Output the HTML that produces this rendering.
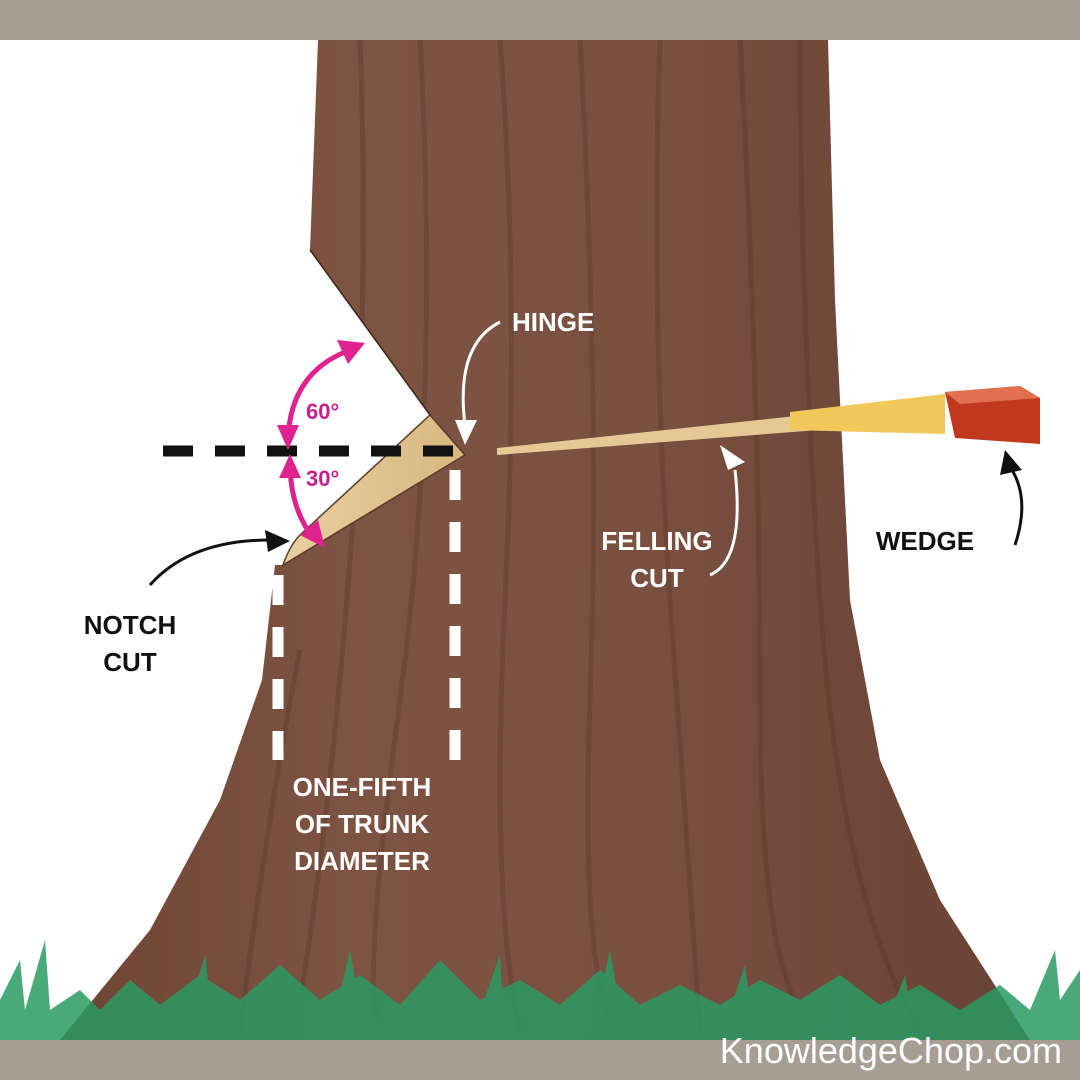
<!DOCTYPE html>
<html><head><meta charset="utf-8"><style>
html,body{margin:0;padding:0;background:#fff}
svg{display:block}
text{font-family:"Liberation Sans",sans-serif;font-weight:bold}
</style></head><body>
<svg width="1080" height="1080" viewBox="0 0 1080 1080" xmlns="http://www.w3.org/2000/svg">
<defs>
<linearGradient id="bark" x1="0" x2="1" y1="0" y2="0">
<stop offset="0" stop-color="#6e4535"/>
<stop offset="0.3" stop-color="#7d5443"/>
<stop offset="0.6" stop-color="#7a5040"/>
<stop offset="1" stop-color="#684234"/>
</linearGradient>
<linearGradient id="wood" x1="0" x2="1" y1="0" y2="0">
<stop offset="0" stop-color="#e8cfa0"/><stop offset="1" stop-color="#d9b77f"/>
</linearGradient>
<clipPath id="tc"><path id="trunk" d="M318 40 L828 40 L835 300 L850 600 L880 760 L940 900 L1030 1040 L60 1040 L150 930 L220 800 L262 680 L275 565 L283 565 L465 455 L430 415 L310 250 Z"/></clipPath>
</defs>
<rect width="1080" height="1080" fill="#fff"/>
<path d="M318 40 L828 40 L835 300 L850 600 L880 760 L940 900 L1030 1040 L60 1040 L150 930 L220 800 L262 680 L275 565 L283 565 L465 455 L430 415 L310 250 Z" fill="url(#bark)"/>
<g clip-path="url(#tc)" stroke="#5a3528" stroke-width="5" opacity="0.35" fill="none">
<path d="M360 40 Q370 300 350 560 T300 1000"/>
<path d="M420 40 Q440 400 400 700 T380 1020"/>
<path d="M500 40 Q520 300 505 600 T520 1030"/>
<path d="M580 40 Q600 400 590 700 T620 1030"/>
<path d="M660 40 Q650 300 670 600 T700 1030"/>
<path d="M740 40 Q760 400 760 700 T820 1030"/>
<path d="M800 40 Q800 300 820 600 T920 1030"/>
<path d="M240 1030 Q270 800 300 650"/>
</g>
<!-- grass -->
<g fill="#2a9a62" opacity="0.85">
<path d="M0 1040 L0 1000 L20 960 L25 1010 L45 940 L50 1010 L80 990 L100 1010 L130 980 L160 1005 L200 975 L240 1000 L280 965 L320 1000 L360 975 L400 1005 L440 960 L480 1000 L520 980 L560 1005 L600 970 L640 1005 L680 985 L720 1005 L760 980 L800 1000 L840 975 L880 1005 L920 985 L960 1010 L1000 985 L1030 1010 L1055 950 L1060 1000 L1080 970 L1080 1040 Z"/>
<path d="M180 1040 L205 955 L215 1040 Z"/>
<path d="M330 1040 L350 950 L365 1040 Z"/>
<path d="M470 1040 L500 955 L505 1040 Z"/>
<path d="M590 1040 L610 950 L625 1040 Z"/>
<path d="M720 1040 L745 965 L755 1040 Z"/>
<path d="M880 1040 L905 975 L915 1040 Z"/>
</g>
<rect x="0" y="0" width="1080" height="40" fill="#a89d92"/>
<rect x="0" y="1040" width="1080" height="40" fill="#a89d92"/>
<text x="1062" y="1063" font-size="36" fill="#fff" text-anchor="end" style="font-weight:normal">KnowledgeChop.com</text>
<path d="M430 415 L465 455 L283 565 Q290 545 300 535 Z" fill="url(#wood)" stroke="#5a3a2a" stroke-width="1.5"/>
<path d="M310 250 L430 415" stroke="#3a2418" stroke-width="1.5"/>
<path d="M497 448 L870 408 L870 426 L497 455 Z" fill="#e6c894"/>
<path d="M790 412 L945 394 L945 434 L790 430 Z" fill="#f0c95a"/>
<path d="M945 392 L1020 386 L1040 398 L1040 444 L955 438 Z" fill="#c0391f"/>
<path d="M945 392 L1020 386 L1040 398 L960 404 Z" fill="#e07050"/>
<line x1="163" y1="451" x2="462" y2="451" stroke="#111" stroke-width="11" stroke-dasharray="30,22"/>
<line x1="455" y1="470" x2="455" y2="760" stroke="#fff" stroke-width="11" stroke-dasharray="30,22"/>
<line x1="278" y1="575" x2="278" y2="760" stroke="#fff" stroke-width="11" stroke-dasharray="30,22"/>
<g stroke="#e0228e" stroke-width="5" fill="none">
<path d="M288 440 Q290 375 345 352"/>
<path d="M290 462 Q290 510 315 540"/>
</g>
<g fill="#e0228e">
<path d="M365 343 L337 340 L348 364 Z"/>
<path d="M288 450 L277 425 L299 425 Z"/>
<path d="M290 454 L279 478 L301 478 Z"/>
<path d="M325 548 L300 535 L318 520 Z"/>
</g>
<text x="306" y="419" font-size="22" fill="#c8208a">60°</text>
<text x="306" y="486" font-size="22" fill="#c8208a">30°</text>
<path d="M150 585 Q190 540 270 540" stroke="#111" stroke-width="3" fill="none"/>
<path d="M290 541 L265 530 L268 552 Z" fill="#111"/>
<path d="M1015 545 Q1030 500 1012 470" stroke="#111" stroke-width="3" fill="none"/>
<path d="M1005 450 L1000 475 L1022 470 Z" fill="#111"/>
<path d="M500 322 Q455 345 465 425" stroke="#fff" stroke-width="3" fill="none"/>
<path d="M465 445 L455 420 L477 420 Z" fill="#fff"/>
<path d="M710 575 Q745 560 735 470" stroke="#fff" stroke-width="3" fill="none"/>
<path d="M720 445 L728 470 L745 462 Z" fill="#fff"/>
<text x="512" y="331" font-size="26" fill="#fff">HINGE</text>
<text x="657" y="550" font-size="26" fill="#fff" text-anchor="middle">FELLING</text>
<text x="657" y="587" font-size="26" fill="#fff" text-anchor="middle">CUT</text>
<text x="925" y="550" font-size="26" fill="#111" text-anchor="middle">WEDGE</text>
<text x="130" y="634" font-size="26" fill="#111" text-anchor="middle">NOTCH</text>
<text x="130" y="671" font-size="26" fill="#111" text-anchor="middle">CUT</text>
<text x="362" y="796" font-size="26" fill="#fff" text-anchor="middle">ONE-FIFTH</text>
<text x="362" y="833" font-size="26" fill="#fff" text-anchor="middle">OF TRUNK</text>
<text x="362" y="870" font-size="26" fill="#fff" text-anchor="middle">DIAMETER</text>
</svg>
</body></html>
